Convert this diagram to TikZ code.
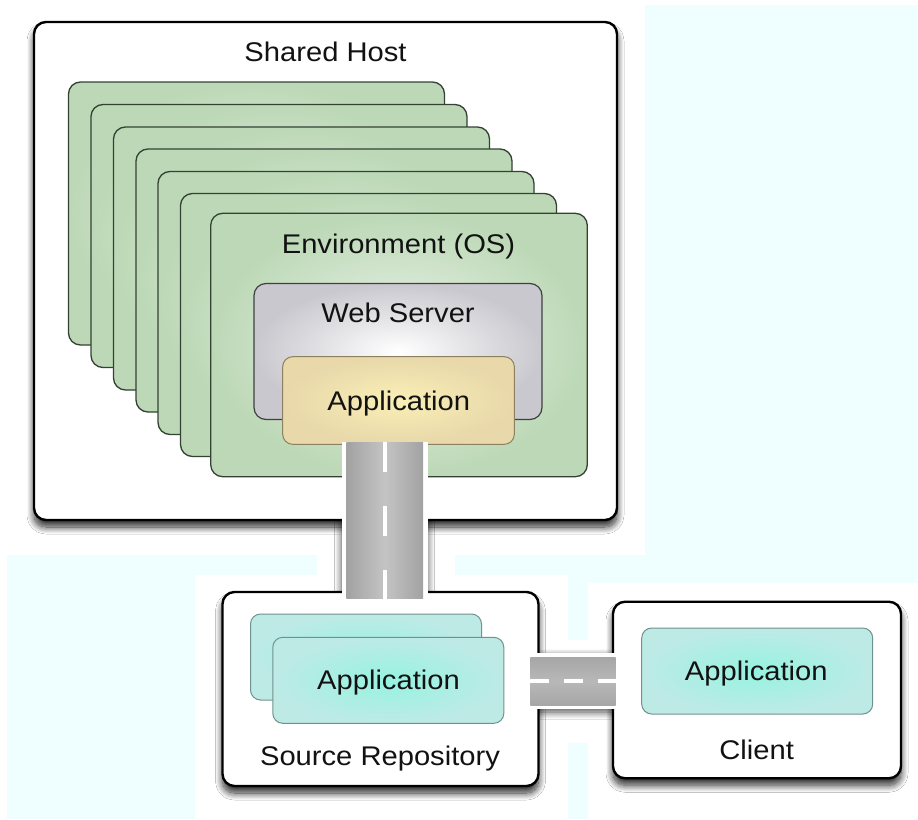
\documentclass[tikz,border=0pt]{standalone}
\usepackage{fontspec}
\setmainfont{Liberation Sans}
\usepackage{graphicx}
\usetikzlibrary{calc,shadows.blur}

\definecolor{bgcyan}{RGB}{239,255,255}
\definecolor{envline}{RGB}{52,66,52}
\definecolor{envin}{RGB}{236,244,234}
\definecolor{envout}{RGB}{188,216,182}
\definecolor{webline}{RGB}{64,64,64}
\definecolor{webout}{RGB}{200,200,206}
\definecolor{appline}{RGB}{140,128,96}
\definecolor{appin}{RGB}{250,239,182}
\definecolor{appout}{RGB}{232,216,170}
\definecolor{tealline}{RGB}{112,146,142}
\definecolor{tealin}{RGB}{150,243,225}
\definecolor{tealout}{RGB}{190,234,230}
\definecolor{roadedge}{RGB}{162,162,162}
\definecolor{roadmid}{RGB}{196,196,196}
\definecolor{hroadedge}{RGB}{166,166,166}
\definecolor{hroadmid}{RGB}{184,184,184}

\pgfdeclarelayer{backdrop}
\pgfsetlayers{backdrop,main}

\newcommand\sxtext[1]{\scalebox{1.08}[1]{#1}}

\tikzset{
  x=1pt, y=-1pt,
  frame/.style={draw=black, line width=2.4pt, rounded corners=12pt, fill=white,
    inner sep=0pt,
    blur shadow={shadow xshift=0pt, shadow yshift=-7pt, shadow blur radius=7pt,
      shadow blur steps=14, shadow opacity=85}},
  envpanel/.style={draw=envline, line width=1.3pt, rounded corners=12pt,
    inner sep=0pt, inner color=envin, outer color=envout,
    minimum width=376pt, minimum height=263pt},
  webbox/.style={draw=webline, line width=1.2pt, rounded corners=12pt,
    inner sep=0pt, inner color=white, outer color=webout},
  appbox/.style={draw=appline, line width=1pt, rounded corners=10pt,
    inner sep=0pt, inner color=appin, outer color=appout},
  tealbox/.style={draw=tealline, line width=1pt, rounded corners=10pt,
    inner sep=0pt, inner color=tealin, outer color=tealout,
    minimum width=231pt, minimum height=86pt},
  caption/.style={anchor=base, inner sep=0pt, text=black!93,
    font=\fontsize{27}{30}\selectfont},
  roadshadow/.style={blur shadow={shadow xshift=0pt, shadow yshift=-3pt,
      shadow blur radius=7pt, shadow blur steps=12, shadow opacity=70}},
  roadborder/.style={draw=white},
  roadline/.style={draw=white, line width=4pt},
}

\begin{document}
\begin{tikzpicture}
\useasboundingbox (0,0) rectangle (918,819);

% Shared host with its stack of environments
\node[frame, minimum width=583pt, minimum height=498pt] (host) at (325.5,271) {};
\node[envpanel] (env1) at (256.5,213.5) {};
\node[envpanel] (env2) at (279,236) {};
\node[envpanel] (env3) at (301.5,258.5) {};
\node[envpanel] (env4) at (324,280.5) {};
\node[envpanel] (env5) at (346,303) {};
\node[envpanel] (env6) at (368.5,325) {};
\node[envpanel, minimum width=376.6pt, minimum height=263.4pt] (env7) at (399,345) {};
\node[webbox, minimum width=288pt, minimum height=136pt] (web) at (398,351.5) {};
\node[appbox, minimum width=231.6pt, minimum height=87.6pt] (hostapp) at (398.5,400.5) {};

\node[caption] (hostlbl) at (325.5,61.7) {\sxtext{Shared Host}};
\node[caption] (envlbl) at (398.5,253.3) {\sxtext{Environment (OS)}};
\node[caption] (weblbl) at (398,322.7) {\sxtext{Web Server}};
\node[caption] (hostapplbl) at (398.8,410.7) {\sxtext{Application}};

% Source repository and client
\node[frame, minimum width=316pt, minimum height=194pt] (repo) at (380.5,689) {};
\node[tealbox] (repoback) at (366,657) {};
\node[tealbox] (repoapp) at (388.3,680.3) {};
\node[caption] (repoapplbl) at (388.5,689.5) {\sxtext{Application}};
\node[caption] (repolbl) at (380,765) {\sxtext{Source Repository}};

\node[frame, minimum width=288pt, minimum height=176.5pt] (client) at (757,690) {};
\node[tealbox] (clientapp) at (757.2,671) {};
\node[caption] (clientapplbl) at (756.3,680) {\sxtext{Application}};
\node[caption] (clientlbl) at (756.7,759.3) {\sxtext{Client}};

% Road end points
\coordinate (vtop) at ($(hostapp.south)+(-13.8,-2.6)$);
\coordinate (vbot) at ($(repo.north)+(4.2,8)$);
\coordinate (hleft) at ($(repo.east)+(-9.3,-8)$);
\coordinate (hright) at ($(client.west)+(3.7,-9)$);

% Backdrop: panels of light cyan and road shadows
\begin{pgfonlayer}{backdrop}
  \fill[bgcyan] (0,0) rectangle (918,819);
  \fill[white] (0,0) rectangle (918,5);
  \fill[white] (0,0) rectangle (645,555);
  \fill[white] (0,555) rectangle (7,819);
  \fill[white] (317,555) rectangle (455,575);
  \fill[white] (195,575) rectangle (568,819);
  \fill[white] (588,583) rectangle (918,819);
  \fill[white] (568,640) rectangle (588,743);
  \path[roadshadow] ($(vtop)+(-43,0)$) rectangle ($(vbot)+(43,0)$);
  \path[roadshadow] ($(hleft)+(0,-28)$) rectangle ($(hright)+(0,28)$);
\end{pgfonlayer}

% Road from the hosted application down to the repository
\draw[roadborder, line width=86pt] (vtop) -- (vbot);
\shade[left color=roadedge, right color=roadedge, middle color=roadmid]
  ($(vtop)+(-38.3,0)$) rectangle ($(vbot)+(38.3,0)$);
\draw[roadline, dash pattern=on 30pt off 34pt] (vtop) -- (vbot);

% Road between repository and client
\draw[roadborder, line width=56.3pt] (hleft) -- (hright);
\shade[top color=hroadedge, bottom color=hroadedge, middle color=hroadmid]
  ($(hleft)+(0,-24)$) rectangle ($(hright)+(0,24)$);
\draw[roadline, dash pattern=on 18.5pt off 15.5pt] (hleft) -- (hright);
\end{tikzpicture}
\end{document}
